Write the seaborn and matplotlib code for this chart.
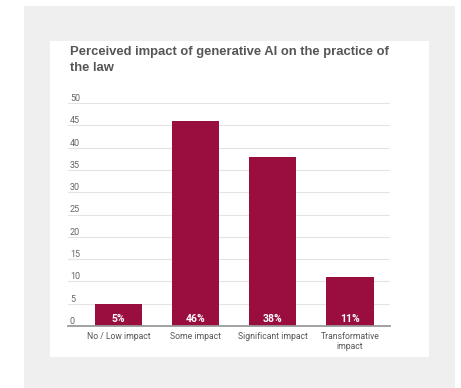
import matplotlib
matplotlib.use("Agg")
import matplotlib.pyplot as plt
import matplotlib.transforms as mtransforms
from matplotlib.patches import Rectangle
import seaborn as sns
import pandas as pd

categories = ["No / Low impact", "Some impact", "Significant impact", "Transformative\nimpact"]
values = [5, 46, 38, 11]
value_labels = ["5%", "46%", "38%", "11%"]
yticks = [0, 5, 10, 15, 20, 25, 30, 35, 40, 45, 50]
title = "Perceived impact of generative AI on the practice of\nthe law"

W, H = 461, 388
fig = plt.figure(figsize=(W / 100, H / 100), dpi=100)
fig.patch.set_facecolor("white")

def px_rect(x0, y0, x1, y1, color):
    fig.patches.append(Rectangle((x0 / W, 1 - y1 / H), (x1 - x0) / W, (y1 - y0) / H,
                                 transform=fig.transFigure, facecolor=color,
                                 edgecolor="none", zorder=-10))

px_rect(24, 6, 455, 388, "#efefef")
px_rect(50, 41, 429, 357, "white")

ax_l, ax_r, ax_t, ax_b = 68, 390, 103, 326
ax = fig.add_axes([ax_l / W, 1 - ax_b / H, (ax_r - ax_l) / W, (ax_b - ax_t) / H])
ax.set_facecolor("none")

df = pd.DataFrame({"category": categories, "value": values})
sns.barplot(data=df, x="category", y="value", color="#990d3f", saturation=1,
            width=0.61, ax=ax, zorder=3)

ax.set_ylim(0, 50)
ax.set_xlim(-0.654, 3.518)
ax.set_xlabel("")
ax.set_ylabel("")
for s in ["top", "right", "left"]:
    ax.spines[s].set_visible(False)
ax.spines["bottom"].set_color("#9a9a9a")
ax.spines["bottom"].set_linewidth(1.3)
ax.spines["bottom"].set_zorder(5)

ax.set_yticks(yticks)
ax.set_yticklabels([])
ax.tick_params(axis="y", length=0)
ax.yaxis.grid(True, color="#e4e4e4", linewidth=0.8, zorder=0)
ax.set_axisbelow(True)

blend = mtransforms.blended_transform_factory(ax.transAxes, ax.transData)
for v in yticks:
    ax.annotate(str(v), xy=(2 / (ax_r - ax_l), v), xycoords=blend,
                xytext=(0, 0), textcoords="offset points",
                ha="left", va="bottom", fontsize=6.5, color="#666666",
                family="Roboto")

ax.tick_params(axis="x", length=0, pad=4, labelsize=6.2, labelcolor="#555555")
for lbl in ax.get_xticklabels():
    lbl.set_family("Roboto")
    lbl.set_linespacing(1.25)

for patch, lab in zip(ax.patches, value_labels):
    cx = patch.get_x() + patch.get_width() / 2
    ax.annotate(lab, xy=(cx, 0), xytext=(0, 1.5), textcoords="offset points",
                ha="center", va="bottom", fontsize=7.5, fontweight="bold",
                color="white", family="Roboto", zorder=6)

fig.text(70 / W, 1 - 45.5 / H, title, ha="left", va="top", fontsize=9.4,
         fontweight="bold", color="#555555", family="Liberation Sans",
         linespacing=1.5)

fig.savefig("out.png", dpi=100, facecolor="white")
